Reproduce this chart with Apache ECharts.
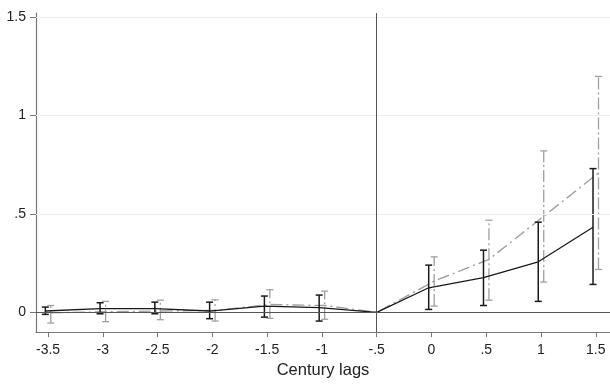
<!DOCTYPE html>
<html><head><meta charset="utf-8">
<script src="https://cdn.jsdelivr.net/npm/echarts@6/dist/echarts.min.js"></script>
<style>html,body{margin:0;padding:0;background:#fff}#c{width:610px;height:384px}</style>
</head><body><div id="c"></div>
<script>
const xs = [-3.5, -3, -2.5, -2, -1.5, -1, -0.5, 0, 0.5, 1, 1.5];
const xTicks = [-3.5, -3, -2.5, -2, -1.5, -1, -0.5, 0, 0.5, 1, 1.5];
const yTicks = [0, 0.5, 1, 1.5];
const blackMean = [0.007, 0.019, 0.019, 0.007, 0.032, 0.024, 0, 0.125, 0.176, 0.257, 0.432];
const blackLo   = [-0.01, -0.007, -0.007, -0.032, -0.024, -0.044, null, 0.015, 0.035, 0.056, 0.142];
const blackHi   = [0.027, 0.049, 0.052, 0.052, 0.083, 0.088, null, 0.24, 0.316, 0.458, 0.73];
const grayMean  = [-0.002, 0.003, 0.007, 0.01, 0.04, 0.035, 0, 0.159, 0.269, 0.488, 0.708];
const grayLo    = [-0.054, -0.047, -0.037, -0.044, -0.03, -0.035, null, 0.032, 0.062, 0.154, 0.218];
const grayHi    = [0.035, 0.056, 0.062, 0.064, 0.115, 0.108, null, 0.282, 0.468, 0.82, 1.198];
const xName = 'Century lags';

const dodge = 0.025;
const FONT = "'Liberation Sans', Arial, sans-serif";
const fmt = v => { let s = String(Math.round(v * 100) / 100); return s.replace(/^(-?)0\./, '$1.'); };

function lineData(mean, d) {
  return xs.map((x, i) => [x + (x === -0.5 ? 0 : d), mean[i]]);
}
function barData(lo, hi, d) {
  const out = [];
  xs.forEach((x, i) => { if (lo[i] != null) out.push([x + d, lo[i], hi[i]]); });
  return out;
}
function errRender(color, width, dash, cap) {
  return function (params, api) {
    const x = api.value(0), lo = api.value(1), hi = api.value(2);
    const a = api.coord([x, lo]), b = api.coord([x, hi]);
    const st = { stroke: color, lineWidth: width, lineDash: dash, fill: null };
    const cst = { stroke: color, lineWidth: width, fill: null };
    return { type: 'group', children: [
      { type: 'line', shape: { x1: a[0], y1: a[1], x2: b[0], y2: b[1] }, style: st },
      { type: 'line', shape: { x1: a[0] - cap, y1: a[1], x2: a[0] + cap, y2: a[1] }, style: cst },
      { type: 'line', shape: { x1: b[0] - cap, y1: b[1], x2: b[0] + cap, y2: b[1] }, style: cst }
    ]};
  };
}

const chart = echarts.init(document.getElementById('c'), null, { renderer: 'canvas' });
chart.setOption({
  animation: false,
  backgroundColor: '#ffffff',
  grid: { left: 36, right: 0, top: 13, bottom: 51.3 },
  xAxis: {
    type: 'value', min: -3.61, max: 1.63,
    name: xName, nameLocation: 'middle', nameGap: 28,
    nameTextStyle: { fontFamily: FONT, fontSize: 16.5, color: '#222' },
    axisLine: { show: true, onZero: false, lineStyle: { color: '#777', width: 1.2 } },
    axisTick: { show: true, length: 5, customValues: xTicks, lineStyle: { color: '#777' } },
    axisLabel: { customValues: xTicks, formatter: fmt, margin: 11, fontFamily: FONT, fontSize: 14, color: '#222' },
    splitLine: { show: false }
  },
  yAxis: {
    type: 'value', min: -0.1, max: 1.52,
    axisLine: { show: true, onZero: false, lineStyle: { color: '#777', width: 1.2 } },
    axisTick: { show: true, length: 6, customValues: yTicks, lineStyle: { color: '#777' } },
    axisLabel: { customValues: yTicks, formatter: fmt, margin: 10, fontFamily: FONT, fontSize: 14, color: '#222' },
    splitLine: { show: false }
  },
  series: [
    {
      type: 'line', data: [], silent: true, z: 1,
      markLine: {
        silent: true, symbol: 'none', label: { show: false },
        lineStyle: { color: '#efefef', width: 1, type: 'solid' },
        data: [{ yAxis: 0.5 }, { yAxis: 1 }, { yAxis: 1.5 }]
      }
    },
    {
      type: 'line', data: [], silent: true, z: 2,
      markLine: {
        silent: true, symbol: 'none', label: { show: false },
        lineStyle: { color: '#555', width: 1, type: 'solid' },
        data: [{ yAxis: 0 }, { xAxis: -0.5 }]
      }
    },
    {
      type: 'line', data: lineData(grayMean, dodge), showSymbol: false, z: 3,
      lineStyle: { color: '#a0a0a0', width: 1.4, type: [12, 4, 2, 4] }
    },
    {
      type: 'custom', data: barData(grayLo, grayHi, dodge), z: 3,
      renderItem: errRender('#a0a0a0', 1.3, [12, 3, 2, 3], 3.5)
    },
    {
      type: 'line', data: lineData(blackMean, -dodge), showSymbol: false, z: 4,
      lineStyle: { color: '#1a1a1a', width: 1.3, type: 'solid' }
    },
    {
      type: 'custom', data: barData(blackLo, blackHi, -dodge), z: 4,
      renderItem: errRender('#1a1a1a', 1.5, null, 3.5)
    }
  ]
});
</script>
</body></html>
